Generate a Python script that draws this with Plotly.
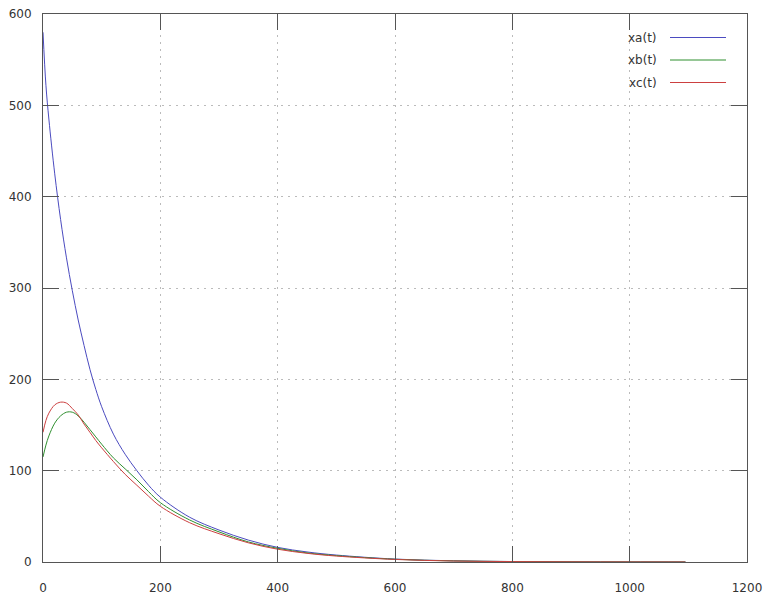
import plotly.graph_objects as go

t = [0, 5, 10, 20, 30, 40, 50, 60, 70, 80, 90, 100, 120, 140, 160, 180, 200,
     250, 300, 350, 400, 450, 500, 600, 700, 800, 900, 1000, 1095]
xa = [580, 522, 485, 425, 375, 333, 297, 265, 237, 211, 189, 170, 140, 118, 100, 84, 71,
      49, 35, 24, 16, 11, 7.6, 3.2, 1.3, 0.5, 0.2, 0.1, 0.05]
xb = [115, 128, 138, 152, 160, 164, 164, 160, 153, 145, 137, 129, 114, 102, 90, 77, 65,
      46, 33, 22, 15, 10, 7, 3, 1.2, 0.5, 0.2, 0.08, 0.04]
xc = [142, 155, 163, 172, 175, 174, 168, 161, 151, 142, 133, 125, 110, 96, 84, 72, 61,
      43, 31, 21, 14, 9.5, 6.5, 2.8, 1.1, 0.45, 0.18, 0.07, 0.03]

names = ["xa(t)", "xb(t)", "xc(t)"]
colors = ["#4b4bc0", "#2f8f2f", "#cc4040"]
x_ticks = [0, 200, 400, 600, 800, 1000, 1200]
y_ticks = [0, 100, 200, 300, 400, 500, 600]

fig = go.Figure()
for name, ys, c in zip(names, [xa, xb, xc], colors):
    fig.add_trace(go.Scatter(x=t, y=ys, mode="lines", name=name,
                             line=dict(color=c, width=1, shape="spline", smoothing=1.0),
                             showlegend=False, hoverinfo="skip"))

W, H = 774, 596
l, r, tp, b = 43, 27, 14, 34
pw, ph = W - l - r, H - tp - b

# gnuplot-style legend (text left of sample line)
leg_y = [37.5, 60, 82.5]
for name, c, yy in zip(names, colors, leg_y):
    yp = 1 - (yy - tp) / ph
    fig.add_annotation(xref="paper", yref="paper", x=(659 - l) / pw, y=yp,
                       text=name, showarrow=False, xanchor="right", yanchor="middle",
                       font=dict(family="DejaVu Sans", size=12, color="#333333"))
    fig.add_shape(type="line", xref="paper", yref="paper",
                  x0=(670 - l) / pw, x1=(726 - l) / pw, y0=yp, y1=yp,
                  line=dict(color=c, width=1))

axis_common = dict(
    showline=True, linecolor="#555555", linewidth=1, mirror="allticks",
    ticks="inside", ticklen=16, tickcolor="#555555", tickwidth=1,
    showgrid=True, gridcolor="#bbbbbb", griddash="2px,5px", gridwidth=1,
    zeroline=False, automargin=False,
    tickfont=dict(family="DejaVu Sans", size=12, color="#333333"),
)
fig.update_xaxes(range=[0, 1200], tickvals=x_ticks, ticktext=[str(v) for v in x_ticks],
                 ticklabelstandoff=15, **axis_common)
fig.update_yaxes(range=[0, 600], tickvals=y_ticks, ticktext=[str(v) for v in y_ticks],
                 ticklabelstandoff=8, **axis_common)

fig.update_layout(width=W, height=H, margin=dict(l=l, r=r, t=tp, b=b),
                  plot_bgcolor="white", paper_bgcolor="white")
fig.write_html("out.html", config={"displayModeBar": False},
               post_script="document.body.style.margin='0';document.body.style.overflow='hidden';")
